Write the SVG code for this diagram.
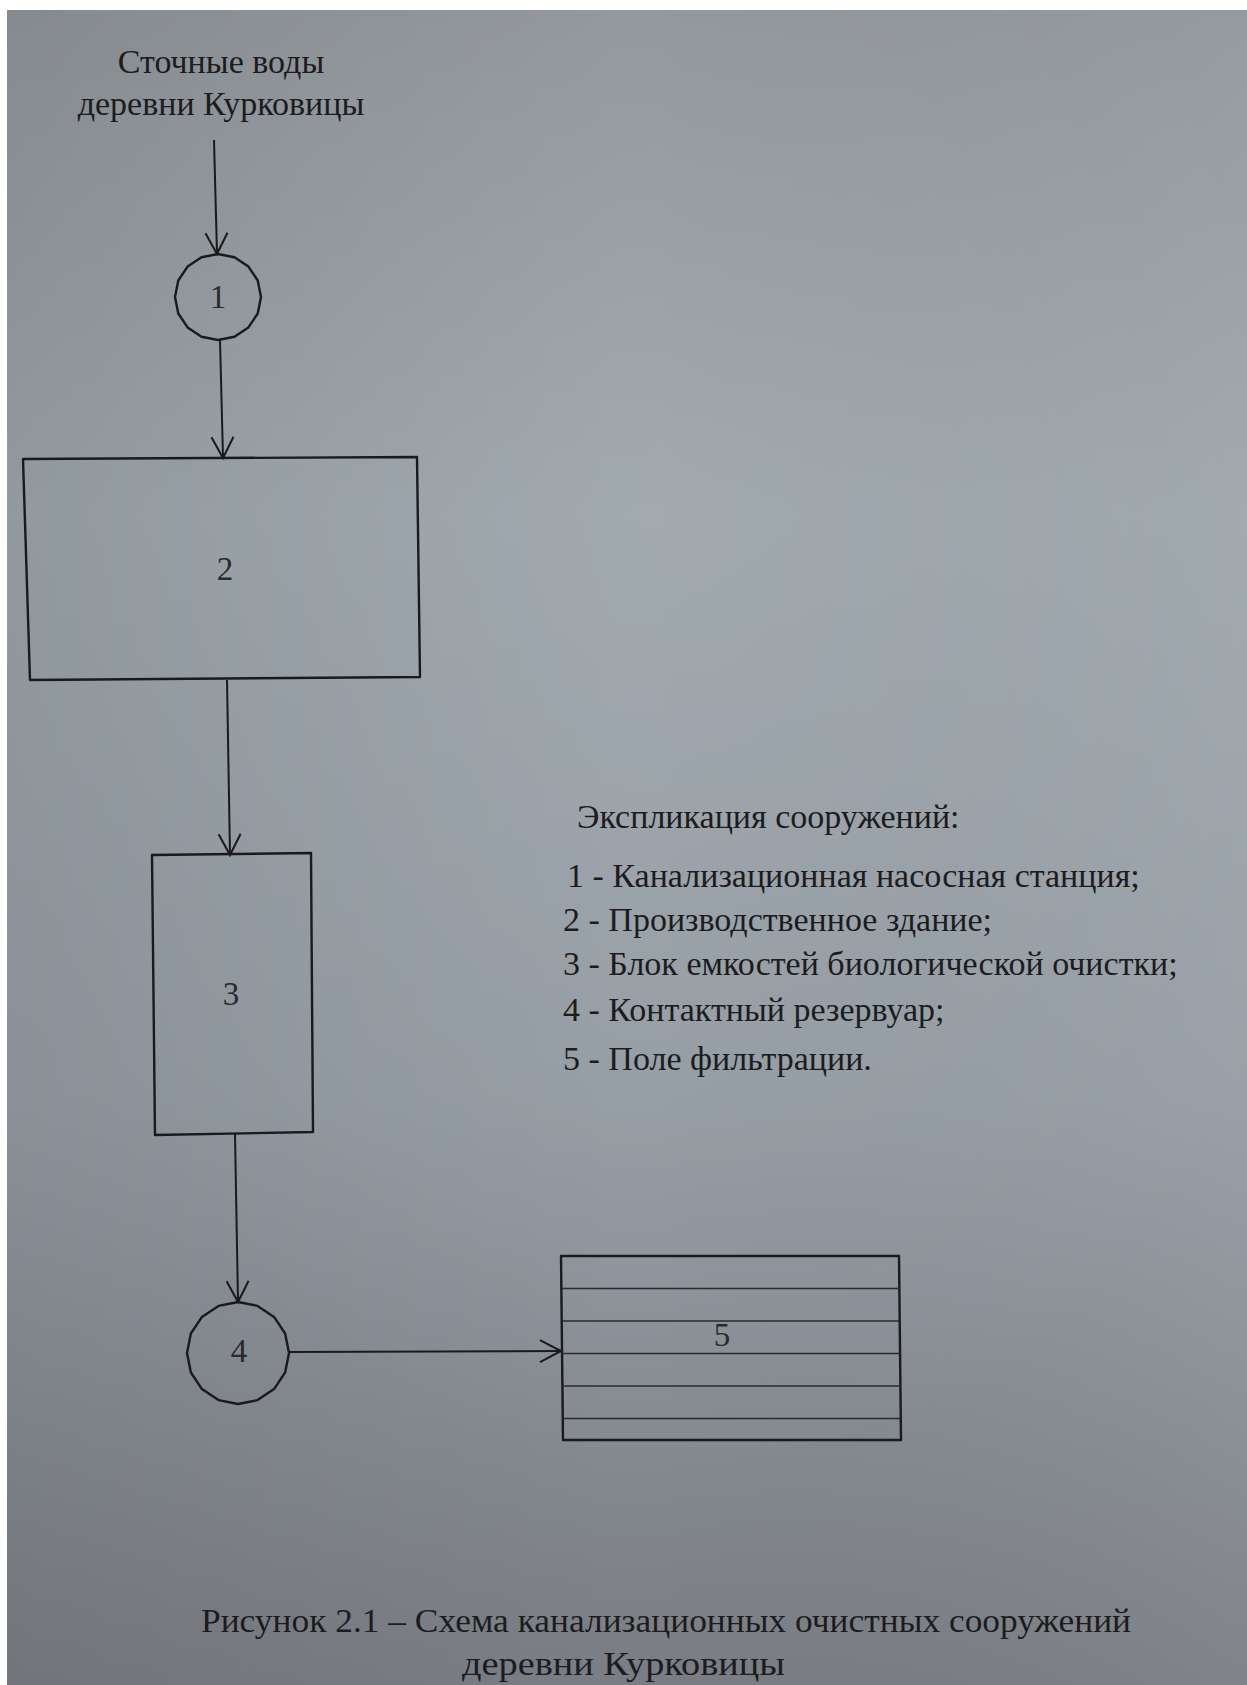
<svg xmlns="http://www.w3.org/2000/svg" width="1247" height="1685" viewBox="0 0 1247 1685">
<style>
.t{font-family:"Liberation Serif","Times New Roman",serif;font-size:34px;fill:#1c1c1e}
.n{font-family:"Liberation Serif","Times New Roman",serif;font-size:33px;fill:#2a2a2c;text-anchor:middle}
.s{fill:none;stroke:#1a1a1c;stroke-width:2.4;stroke-linejoin:round}
.h{fill:none;stroke:#2a2a2e;stroke-width:1.6}
.c{fill:none;stroke:#1a1a1c;stroke-width:2}
</style>
<defs>
<linearGradient id="bgv" x1="0" y1="0" x2="0" y2="1">
<stop offset="0" stop-color="#90959a"/>
<stop offset="0.3" stop-color="#9ba4aa"/>
<stop offset="0.65" stop-color="#949ca3"/>
<stop offset="1" stop-color="#7a7d83"/>
</linearGradient>
<linearGradient id="bgh" x1="0" y1="0" x2="1" y2="0">
<stop offset="0" stop-color="#000000" stop-opacity="0.07"/>
<stop offset="0.5" stop-color="#000000" stop-opacity="0"/>
<stop offset="1" stop-color="#ffffff" stop-opacity="0.05"/>
</linearGradient>
<radialGradient id="bgr" cx="0.55" cy="0.3" r="0.6">
<stop offset="0" stop-color="#ffffff" stop-opacity="0.07"/>
<stop offset="1" stop-color="#ffffff" stop-opacity="0"/>
</radialGradient>
<marker id="ah" markerUnits="userSpaceOnUse" markerWidth="26" markerHeight="28" refX="23" refY="13" orient="auto">
<path d="M2,2 L23,13 L2,24" fill="none" stroke="#1a1a1c" stroke-width="2"/>
</marker>
</defs>
<rect x="0" y="0" width="1247" height="1685" fill="#ffffff"/>
<rect x="7" y="10" width="1240" height="1675" fill="url(#bgv)"/>
<rect x="7" y="10" width="1240" height="1675" fill="url(#bgh)"/>
<rect x="7" y="10" width="1240" height="1675" fill="url(#bgr)"/>

<g id="source">
<text class="t" x="221" y="73" text-anchor="middle">Сточные воды</text>
<text class="t" x="221" y="115" text-anchor="middle">деревни Курковицы</text>
</g>

<g id="connectors">
<line class="c" x1="214" y1="140" x2="217" y2="254" marker-end="url(#ah)"/>
<line class="c" x1="220" y1="340" x2="223" y2="458" marker-end="url(#ah)"/>
<line class="c" x1="227" y1="680" x2="230" y2="855" marker-end="url(#ah)"/>
<line class="c" x1="235" y1="1134" x2="238" y2="1302" marker-end="url(#ah)"/>
<line class="c" x1="289" y1="1352" x2="561" y2="1351" marker-end="url(#ah)"/>
</g>

<g id="node1">
<polygon class="s" points="218,254 234.46,257.27 248.41,266.59 257.73,280.54 261,297 257.73,313.46 248.41,327.41 234.46,336.73 218,340 201.54,336.73 187.59,327.41 178.27,313.46 175,297 178.27,280.54 187.59,266.59 201.54,257.27"/>
<text class="n" x="218" y="308">1</text>
</g>

<g id="node2">
<polygon class="s" points="23,459 417,457 420,677 30,680"/>
<text class="n" x="225" y="580">2</text>
</g>

<g id="node3">
<polygon class="s" points="152,855 311,853 313,1132 155,1135"/>
<text class="n" x="231" y="1005">3</text>
</g>

<g id="node4">
<polygon class="s" points="238,1302 257.52,1305.88 274.06,1316.94 285.12,1333.48 289,1353 285.12,1372.52 274.06,1389.06 257.52,1400.12 238,1404 218.48,1400.12 201.94,1389.06 190.88,1372.52 187,1353 190.88,1333.48 201.94,1316.94 218.48,1305.88"/>
<text class="n" x="239" y="1362">4</text>
</g>

<g id="node5">
<polygon class="s" points="561,1256 899,1256 901,1440 563,1440"/>
<line class="h" x1="562" y1="1288.5" x2="900" y2="1288.5"/>
<line class="h" x1="562" y1="1321" x2="900" y2="1321"/>
<line class="h" x1="562" y1="1353.5" x2="900" y2="1353.5"/>
<line class="h" x1="562" y1="1386" x2="900" y2="1386"/>
<line class="h" x1="562" y1="1418.5" x2="900" y2="1418.5"/>
<text class="n" x="722" y="1346">5</text>
</g>

<g id="legend">
<text class="t" x="577" y="828">Экспликация сооружений:</text>
<text class="t" x="567" y="887">1 - Канализационная насосная станция;</text>
<text class="t" x="563" y="931">2 - Производственное здание;</text>
<text class="t" x="563" y="975">3 - Блок емкостей биологической очистки;</text>
<text class="t" x="563" y="1021">4 - Контактный резервуар;</text>
<text class="t" x="563" y="1070">5 - Поле фильтрации.</text>
</g>

<g id="caption">
<text class="t" x="201" y="1632" textLength="930" lengthAdjust="spacingAndGlyphs">Рисунок 2.1 – Схема канализационных очистных сооружений</text>
<text class="t" x="462" y="1675" textLength="323" lengthAdjust="spacingAndGlyphs">деревни Курковицы</text>
</g>
</svg>
